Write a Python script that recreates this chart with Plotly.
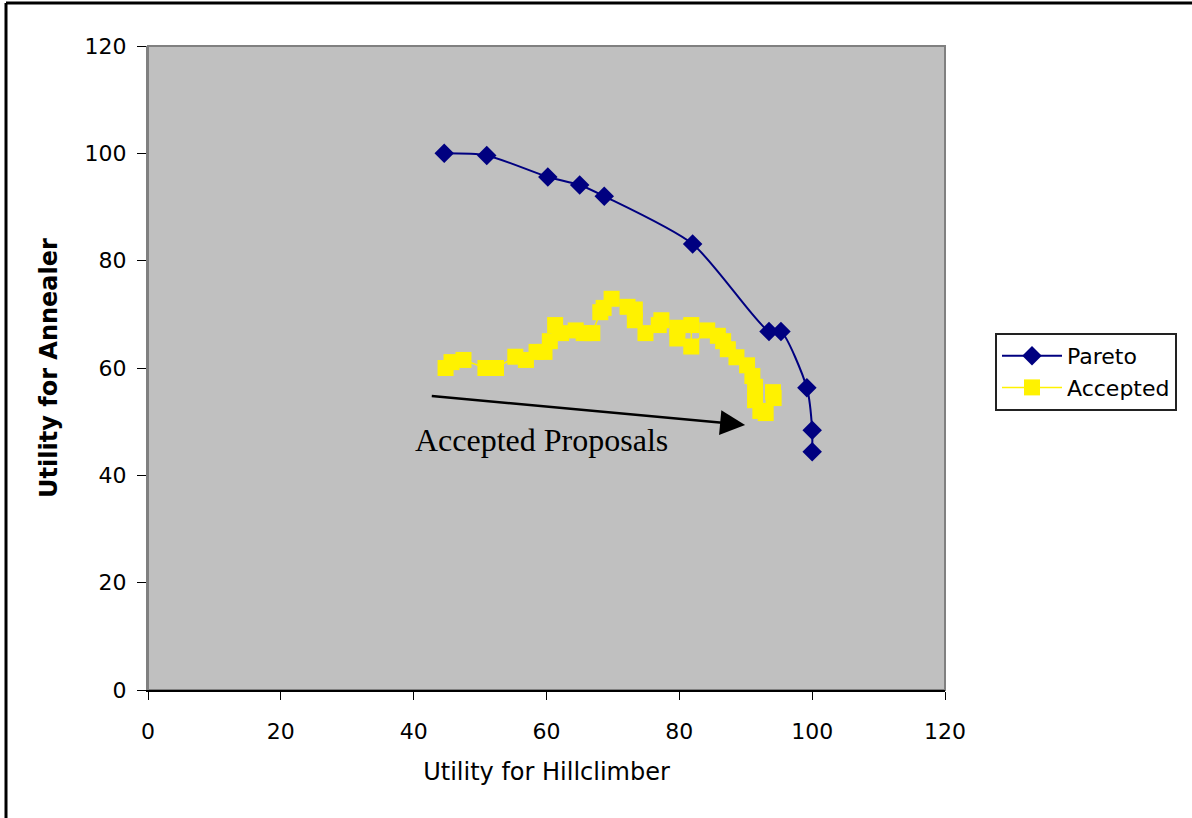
import plotly.graph_objects as go

# Pareto frontier
pareto_x = [44.6, 51.0, 60.2, 65.0, 68.7, 82.0, 93.5, 95.3, 99.2, 100.0, 100.0]
pareto_y = [100.0, 99.6, 95.6, 94.1, 92.0, 83.1, 66.8, 66.8, 56.3, 48.4, 44.4]

# Accepted proposals
accepted_x = [44.8, 45.7, 47.5, 50.8, 52.4, 55.3, 56.9, 58.5, 59.7, 60.5, 61.3, 62.2,
              64.4, 65.6, 66.9, 68.1, 68.6, 69.8, 72.2, 73.3, 73.3, 74.9, 76.9, 77.3,
              79.7, 79.7, 81.8, 81.8, 84.2, 85.8, 86.6, 87.3, 88.6, 90.2, 91.0, 91.4,
              91.4, 92.2, 93.0, 94.2, 94.1]
accepted_y = [60.0, 61.1, 61.5, 60.0, 60.0, 62.1, 61.5, 63.0, 63.0, 65.0, 68.0, 66.5,
              67.0, 66.5, 66.5, 70.4, 71.2, 72.9, 71.4, 70.9, 68.9, 66.5, 68.0, 68.9,
              67.5, 65.5, 68.0, 64.0, 67.0, 66.0, 65.0, 63.5, 62.0, 60.5, 58.5, 56.5,
              54.0, 52.0, 51.6, 54.4, 55.5]

x_ticks = [0, 20, 40, 60, 80, 100, 120]
y_ticks = [0, 20, 40, 60, 80, 100, 120]

arrow_tail = (42.5, 54.8)
arrow_tip = (89.9, 49.4)
label_pos = (59.3, 46.6)

W, H = 1192, 818
ML, MT = 148, 46
MR = W - 945
MB = H - 690

fig = go.Figure()
fig.add_trace(go.Scatter(
    x=pareto_x, y=pareto_y, name="Pareto", mode="lines+markers",
    line=dict(color="#000080", width=2, shape="spline", smoothing=0.7),
    marker=dict(symbol="diamond", size=15, color="#000080"),
))
fig.add_trace(go.Scatter(
    x=accepted_x, y=accepted_y, name="Accepted", mode="lines+markers",
    line=dict(color="#FFF200", width=1.5),
    marker=dict(symbol="square", size=16, color="#FFF200"),
))

fig.add_annotation(
    x=arrow_tip[0], y=arrow_tip[1], ax=arrow_tail[0], ay=arrow_tail[1],
    xref="x", yref="y", axref="x", ayref="y", text="", showarrow=True,
    arrowhead=2, arrowsize=2, arrowwidth=2.5, arrowcolor="black", standoff=0,
)
fig.add_annotation(
    x=label_pos[0], y=label_pos[1], xref="x", yref="y", text="Accepted Proposals",
    showarrow=False, font=dict(family="Liberation Serif", size=32, color="black"),
)

pw = W - ML - MR
ph = H - MT - MB
# outer chart border (left and top visible)
left_px, top_px = 6, 3
fig.add_shape(type="line", xref="paper", yref="paper",
              x0=(left_px - ML) / pw, x1=(left_px - ML) / pw,
              y0=1 + (MT - top_px) / ph, y1=-MB / ph - 0.05,
              line=dict(color="black", width=3))
fig.add_shape(type="line", xref="paper", yref="paper",
              x0=(left_px - ML) / pw, x1=1 + MR / pw + 0.05,
              y0=1 + (MT - top_px) / ph, y1=1 + (MT - top_px) / ph,
              line=dict(color="black", width=3))
# plot area border
fig.add_shape(type="rect", xref="paper", yref="paper", x0=0, x1=1, y0=0, y1=1,
              line=dict(color="#808080", width=2), layer="below")

fig.update_layout(
    width=W, height=H,
    margin=dict(l=ML, r=MR, t=MT, b=MB, pad=0),
    paper_bgcolor="white", plot_bgcolor="#C0C0C0",
    font=dict(family="DejaVu Sans", size=22, color="black"),
    showlegend=True,
    legend=dict(x=(995 - ML) / pw, y=(690 - 333) / ph,
                xanchor="left", yanchor="top",
                bordercolor="#222222", borderwidth=2, bgcolor="white",
                font=dict(family="DejaVu Sans", size=22), tracegroupgap=0,
                itemwidth=60),
    xaxis=dict(range=[0, 120], tickvals=x_ticks, showgrid=False, zeroline=False,
               showline=True, linecolor="black", linewidth=2,
               ticks="outside", ticklen=8, tickcolor="black", tickwidth=1,
               ticklabelstandoff=13,
               title=dict(text="Utility for Hillclimber", standoff=20,
                          font=dict(family="DejaVu Sans", size=24))),
    yaxis=dict(range=[0, 120], tickvals=y_ticks, showgrid=False, zeroline=False,
               showline=True, linecolor="#808080", linewidth=2,
               ticks="outside", ticklen=9, tickcolor="black", tickwidth=1,
               ticklabelstandoff=6,
               title=dict(text="<b>Utility for Annealer</b>", standoff=20,
                          font=dict(family="DejaVu Sans", size=24))),
)

fig.write_html("out.html", config={"displayModeBar": False},
               post_script="document.body.style.margin='0';document.body.style.overflow='hidden';")
